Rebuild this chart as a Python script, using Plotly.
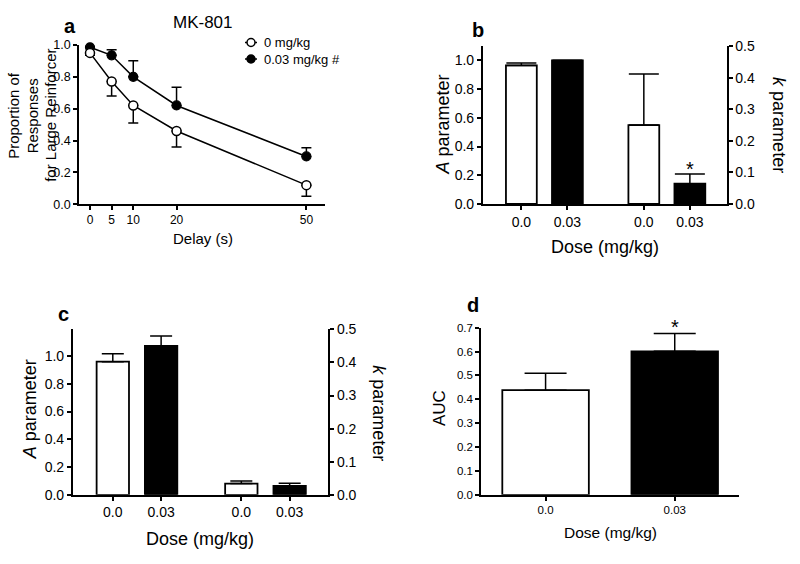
import plotly.graph_objects as go

# ---------------- data ----------------
delays = [0, 5, 10, 20, 50]
veh_prop = [0.95, 0.77, 0.62, 0.46, 0.12]
veh_err = [0.015, 0.09, 0.11, 0.10, 0.07]
mk_prop = [0.985, 0.935, 0.80, 0.62, 0.30]
mk_err = [0.005, 0.035, 0.10, 0.115, 0.055]

dose_labels = ["0.0", "0.03", "0.0", "0.03"]
bar_pos = [1, 2, 3.66, 4.66]
bar_colors = ["white", "black"]

b_A = [0.965, 1.0]
b_A_err = [0.018, 0.002]
b_k = [0.25, 0.064]
b_k_err = [0.162, 0.031]

c_A = [0.96, 1.074]
c_A_err = [0.056, 0.07]
c_k = [0.034, 0.027]
c_k_err = [0.008, 0.008]

d_labels = ["0.0", "0.03"]
d_auc = [0.438, 0.601]
d_err = [0.071, 0.075]

a_ylabel_lines = ["Proportion of", "Responses", "for Large Reinforcer"]

FONT = "Liberation Sans, Arial, sans-serif"
W, H = 800, 564


def X(px):
    return px / W


def Y(py):
    return 1 - py / H


fig = go.Figure()

# ---------------- panel a ----------------
fig.add_trace(go.Scatter(
    x=delays, y=mk_prop, mode="lines+markers", xaxis="x", yaxis="y",
    line=dict(color="black", width=1.5),
    marker=dict(symbol="circle", size=9, color="black", line=dict(color="black", width=1.2)),
    error_y=dict(type="data", symmetric=False, array=mk_err, arrayminus=[0] * 5,
                 color="black", thickness=1.5, width=5),
    cliponaxis=False, showlegend=False))
fig.add_trace(go.Scatter(
    x=delays, y=veh_prop, mode="lines+markers", xaxis="x", yaxis="y",
    line=dict(color="black", width=1.5),
    marker=dict(symbol="circle", size=9, color="white", line=dict(color="black", width=1.5)),
    error_y=dict(type="data", symmetric=False, array=[0] * 5, arrayminus=veh_err,
                 color="black", thickness=1.5, width=5),
    cliponaxis=False, showlegend=False))

# ---------------- panel b ----------------
fig.add_trace(go.Bar(
    x=bar_pos[:2], y=b_A, xaxis="x2", yaxis="y2", width=0.67,
    marker=dict(color=bar_colors, line=dict(color="black", width=1.8)),
    error_y=dict(type="data", symmetric=False, array=b_A_err, arrayminus=[0, 0],
                 color="black", thickness=1.5, width=15),
    showlegend=False))
fig.add_trace(go.Bar(
    x=bar_pos[2:], y=b_k, xaxis="x2", yaxis="y3", width=0.67,
    marker=dict(color=bar_colors, line=dict(color="black", width=1.8)),
    error_y=dict(type="data", symmetric=False, array=b_k_err, arrayminus=[0, 0],
                 color="black", thickness=1.5, width=15),
    showlegend=False))

# ---------------- panel c ----------------
fig.add_trace(go.Bar(
    x=bar_pos[:2], y=c_A, xaxis="x3", yaxis="y4", width=0.67,
    marker=dict(color=bar_colors, line=dict(color="black", width=1.8)),
    error_y=dict(type="data", symmetric=False, array=c_A_err, arrayminus=[0, 0],
                 color="black", thickness=1.5, width=11),
    showlegend=False))
fig.add_trace(go.Bar(
    x=bar_pos[2:], y=c_k, xaxis="x3", yaxis="y5", width=0.67,
    marker=dict(color=bar_colors, line=dict(color="black", width=1.8)),
    error_y=dict(type="data", symmetric=False, array=c_k_err, arrayminus=[0, 0],
                 color="black", thickness=1.5, width=11),
    showlegend=False))

# ---------------- panel d ----------------
fig.add_trace(go.Bar(
    x=[0, 1], y=d_auc, xaxis="x4", yaxis="y6", width=0.67,
    marker=dict(color=bar_colors, line=dict(color="black", width=1.8)),
    error_y=dict(type="data", symmetric=False, array=d_err, arrayminus=[0, 0],
                 color="black", thickness=1.5, width=21),
    showlegend=False))

axis_common = dict(showline=True, linecolor="black", linewidth=1.6, ticks="outside",
                   ticklen=4, tickwidth=1.5, tickcolor="black", showgrid=False,
                   zeroline=False, fixedrange=True)

fig.update_layout(
    width=W, height=H, margin=dict(l=0, r=0, t=0, b=0),
    paper_bgcolor="white", plot_bgcolor="white", barmode="overlay",
    font=dict(family=FONT, color="black"),
    xaxis=dict(domain=[X(79), X(325)], anchor="y", range=[-2.54, 54.3],
               tickvals=delays, tickfont=dict(size=12), **axis_common),
    yaxis=dict(domain=[Y(202), Y(38)], anchor="x", range=[0, 1.0],
               tickvals=[0, 0.2, 0.4, 0.6, 0.8, 1.0], tickformat=".1f",
               tickfont=dict(size=12.5), **axis_common),
    xaxis2=dict(domain=[X(482.7), X(726.7)], anchor="y2", range=[0.16, 5.46],
                tickvals=bar_pos, ticktext=dose_labels, tickfont=dict(size=14), **axis_common),
    yaxis2=dict(domain=[Y(201.7), Y(39.2)], anchor="x2", range=[0, 1.1],
                tickvals=[0, 0.2, 0.4, 0.6, 0.8, 1.0], tickformat=".1f",
                tickfont=dict(size=14), **axis_common),
    yaxis3=dict(overlaying="y2", anchor="x2", side="right", range=[0, 0.5],
                tickvals=[0, 0.1, 0.2, 0.3, 0.4, 0.5], tickformat=".1f",
                tickfont=dict(size=14), **axis_common),
    xaxis3=dict(domain=[X(72.7), X(328.3)], anchor="y4", range=[0.17, 5.46],
                tickvals=bar_pos, ticktext=dose_labels, tickfont=dict(size=14), **axis_common),
    yaxis4=dict(domain=[Y(501), Y(330.7)], anchor="x3", range=[0, 1.193],
                tickvals=[0, 0.2, 0.4, 0.6, 0.8, 1.0], tickformat=".1f",
                tickfont=dict(size=14), **axis_common),
    yaxis5=dict(overlaying="y4", anchor="x3", side="right", range=[0, 0.5],
                tickvals=[0, 0.1, 0.2, 0.3, 0.4, 0.5], tickformat=".1f",
                tickfont=dict(size=14), **axis_common),
    xaxis4=dict(domain=[X(481), X(739.3)], anchor="y6", range=[-0.5, 1.5],
                tickvals=[0, 1], ticktext=d_labels, tickfont=dict(size=11.5), **axis_common),
    yaxis6=dict(domain=[Y(501), Y(329)], anchor="x4", range=[0, 0.7],
                tickvals=[0, 0.1, 0.2, 0.3, 0.4, 0.5, 0.6, 0.7], tickformat=".1f",
                tickfont=dict(size=11.5), **axis_common),
)


def ann(text, px, py, size, angle=0, bold=False, xanchor="center"):
    if bold:
        text = "<b>" + text + "</b>"
    fig.add_annotation(text=text, x=X(px), y=Y(py), xref="paper", yref="paper",
                       showarrow=False, textangle=angle, xanchor=xanchor, yanchor="middle",
                       font=dict(family=FONT, size=size, color="black"))


# panel a texts
ann("MK-801", 203, 14.5, 17)
ann("a", 70, 19, 20, bold=True)
for line, px in zip(a_ylabel_lines, [14, 32.5, 51]):
    ann(line, px, 111, 15, angle=-90)
ann("Delay (s)", 203, 237.5, 15)
ann("0 mg/kg", 262, 35.5, 13, xanchor="left")
ann("0.03 mg/kg #", 262, 52.5, 13, xanchor="left")

# legend symbols
for py, fill in [(35.5, "white"), (52.5, "black")]:
    fig.add_shape(type="line", xref="paper", yref="paper", x0=X(245), x1=X(257),
                  y0=Y(py), y1=Y(py), line=dict(color="black", width=1.5))
    fig.add_shape(type="circle", xref="paper", yref="paper", x0=X(247), x1=X(255),
                  y0=Y(py + 4), y1=Y(py - 4), fillcolor=fill, line=dict(color="black", width=1.5))

# panel b texts
ann("b", 478, 23, 20, bold=True)
ann("<i>A</i> parameter", 443, 120, 18, angle=-90)
ann("<i>k</i> parameter", 779.5, 120, 18, angle=90)
ann("Dose (mg/kg)", 605, 245.5, 18)
fig.add_annotation(text="*", x=bar_pos[3], y=b_k[1] + b_k_err[1], xref="x2", yref="y3",
                   showarrow=False, yanchor="bottom", yshift=-8,
                   font=dict(family=FONT, size=20, color="black"))

# panel c texts
ann("c", 63, 315, 20, bold=True)
ann("<i>A</i> parameter", 30, 413, 18, angle=-90)
ann("<i>k</i> parameter", 379, 417, 18, angle=90)
ann("Dose (mg/kg)", 200, 547, 18)

# panel d texts
ann("d", 473, 306, 20, bold=True)
ann("AUC", 439, 411.7, 17, angle=-90)
ann("Dose (mg/kg)", 610, 540, 15.5)
fig.add_annotation(text="*", x=1, y=d_auc[1] + d_err[1], xref="x4", yref="y6",
                   showarrow=False, yanchor="bottom", yshift=-7,
                   font=dict(family=FONT, size=20, color="black"))

fig.write_html("out.html", config={"displayModeBar": False},
               post_script="document.body.style.margin='0';")
